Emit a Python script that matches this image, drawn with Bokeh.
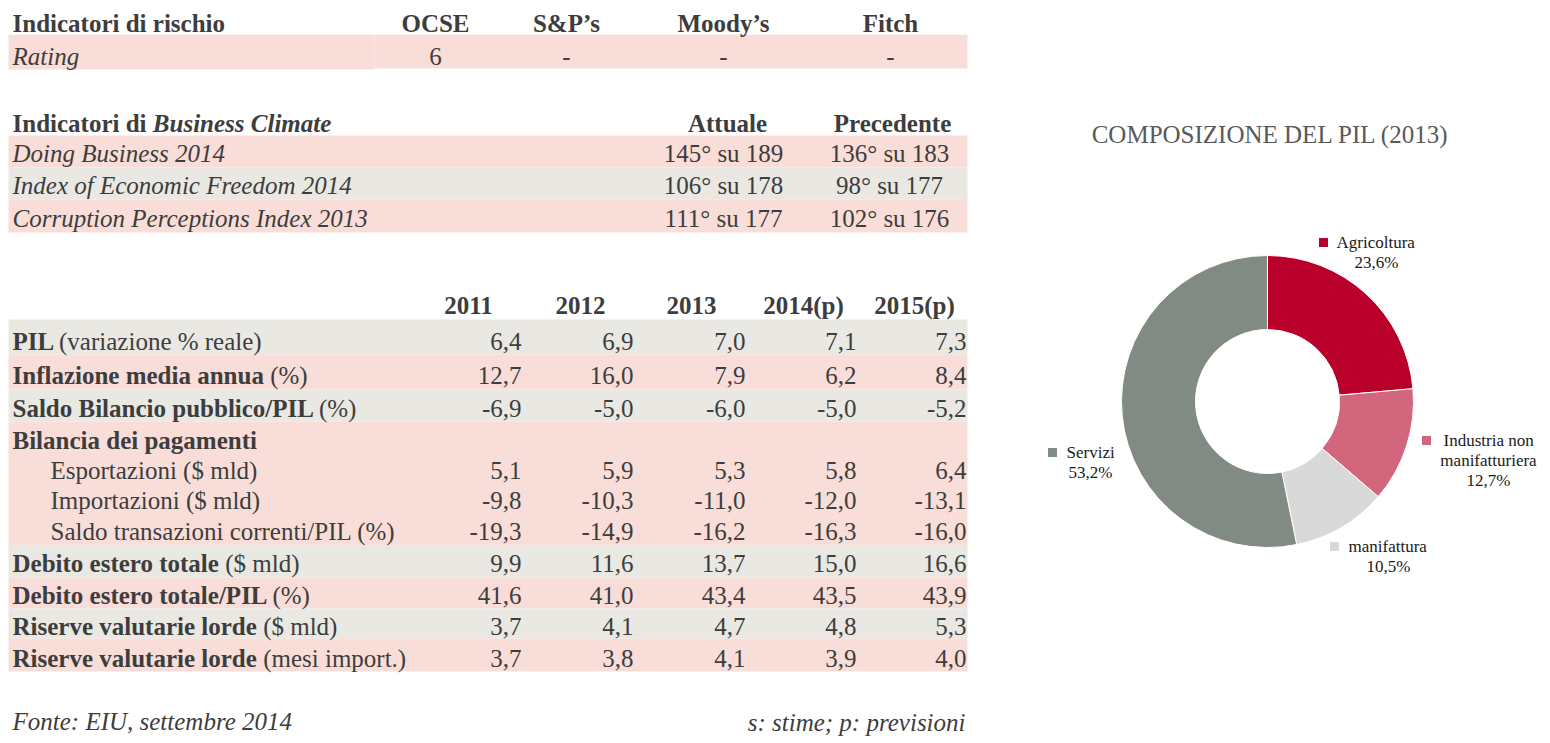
import glob
import math
from bokeh.plotting import figure
from bokeh.models import Range1d
from bokeh.core.properties import value
from bokeh.embed import file_html
from bokeh.resources import INLINE

# ---------------- data ----------------
risk_title = "Indicatori di rischio"
risk_headers = ["OCSE", "S&P’s", "Moody’s", "Fitch"]
risk_row = "Rating"
risk_values = ["6", "-", "-", "-"]

bc_title_bold = "Indicatori di"
bc_title_italic = "Business Climate"
bc_headers = ["Attuale", "Precedente"]
bc_names = ["Doing Business 2014", "Index of Economic Freedom 2014",
            "Corruption Perceptions Index 2013"]
bc_current = ["145° su 189", "106° su 178", "111° su 177"]
bc_previous = ["136° su 183", "98° su 177", "102° su 176"]

years = ["2011", "2012", "2013", "2014(p)", "2015(p)"]
row_bold = ["PIL", "Inflazione media annua", "Saldo Bilancio pubblico/PIL",
            "Bilancia dei pagamenti", "", "", "", "Debito estero totale",
            "Debito estero totale/PIL", "Riserve valutarie lorde",
            "Riserve valutarie lorde"]
row_regular = ["(variazione % reale)", "(%)", "(%)", "",
               "Esportazioni ($ mld)", "Importazioni ($ mld)",
               "Saldo transazioni correnti/PIL (%)", "($ mld)", "(%)",
               "($ mld)", "(mesi import.)"]
row_values = [
    [6.4, 6.9, 7.0, 7.1, 7.3],
    [12.7, 16.0, 7.9, 6.2, 8.4],
    [-6.9, -5.0, -6.0, -5.0, -5.2],
    None,
    [5.1, 5.9, 5.3, 5.8, 6.4],
    [-9.8, -10.3, -11.0, -12.0, -13.1],
    [-19.3, -14.9, -16.2, -16.3, -16.0],
    [9.9, 11.6, 13.7, 15.0, 16.6],
    [41.6, 41.0, 43.4, 43.5, 43.9],
    [3.7, 4.1, 4.7, 4.8, 5.3],
    [3.7, 3.8, 4.1, 3.9, 4.0],
]

source_note = "Fonte: EIU, settembre 2014"
legend_note = "s: stime; p: previsioni"

pie_title = "COMPOSIZIONE DEL PIL (2013)"
pie_names = ["Agricoltura", "Industria non\nmanifatturiera", "manifattura", "Servizi"]
pie_shares = [23.6, 12.7, 10.5, 53.2]

# ---------------- style / layout ----------------
FONT = "Liberation Serif"
FS = 25
TXT = "#3d3d3d"
PINK = "#f9ddd8"
GRAY = "#eae8e3"
PIE_COLORS = ["#b8002a", "#d2667c", "#d9d9d9", "#828a84"]

W, H = 1546, 740


def Y(sy):
    return H - sy


def find_font(name):
    for pat in ["/usr/share/fonts/**/" + name, "/usr/local/share/fonts/**/" + name,
                "/usr/share/fonts/" + name]:
        hits = glob.glob(pat, recursive=True)
        if hits:
            return hits[0]
    return None


_font_cache = {}


def text_width(text, style, size=FS):
    fname = {"normal": "LiberationSerif-Regular.ttf", "bold": "LiberationSerif-Bold.ttf",
             "italic": "LiberationSerif-Italic.ttf",
             "bold italic": "LiberationSerif-BoldItalic.ttf"}[style]
    key = (fname, size)
    if key not in _font_cache:
        f = None
        try:
            from PIL import ImageFont
            path = find_font(fname)
            if path:
                f = ImageFont.truetype(path, size)
        except Exception:
            f = None
        _font_cache[key] = f
    f = _font_cache[key]
    if f is not None:
        return f.getlength(text)
    return len(text) * size * (0.47 if "bold" in style else 0.43)


p = figure(width=W, height=H, output_backend="svg", toolbar_location=None,
           x_range=Range1d(0, W), y_range=Range1d(0, H),
           min_border=0, min_border_left=0, min_border_right=0,
           min_border_top=0, min_border_bottom=0)
p.axis.visible = False
p.grid.visible = False
p.outline_line_color = None
p.background_fill_color = "white"
p.border_fill_color = "white"


def txt(x, sy, s, style="normal", align="left", size=FS, color=TXT):
    p.text(x=[x], y=[Y(sy)], text=[s], text_font=value(FONT),
           text_font_size=f"{size}px", text_font_style=style,
           text_align=align, text_baseline="middle", text_color=color)


def band(x0, x1, sy0, sy1, color):
    p.quad(left=[x0], right=[x1], top=[Y(sy0)], bottom=[Y(sy1)],
           fill_color=color, line_color=None)


LEFT = 12
BAND_L, BAND_R = 8, 967

# ---- table 1: risk ----
band(BAND_L, 374, 34, 69, PINK)
band(374, BAND_R, 34, 68, PINK)
txt(LEFT, 23, risk_title, "bold")
risk_x = [435, 566, 723, 890]
for x, h, v in zip(risk_x, risk_headers, risk_values):
    txt(x, 23, h, "bold", "center")
    txt(x, 56, v, "normal", "center")
txt(LEFT, 56, risk_row, "italic")

# ---- table 2: business climate ----
bc_bands = [(135, 167, PINK), (167, 199, GRAY), (199, 232, PINK)]
for (a, b, c) in bc_bands:
    band(BAND_L, BAND_R, a, b, c)
txt(LEFT, 123, bc_title_bold, "bold")
txt(LEFT + text_width(bc_title_bold + " ", "bold"), 123, bc_title_italic, "bold italic")
bc_x = [727, 892]
for x, h in zip(bc_x, bc_headers):
    txt(x, 123, h, "bold", "center")
for i, (a, b, c) in enumerate(bc_bands):
    sy = (a + b) / 2 + 2
    txt(LEFT, sy, bc_names[i], "italic")
    txt(bc_x[0] - 4, sy, bc_current[i], "normal", "center")
    txt(bc_x[1] - 3, sy, bc_previous[i], "normal", "center")

# ---- table 3: macro ----
bands3 = [(319, 354, GRAY), (354, 389, PINK), (389, 421, GRAY), (421, 545, PINK),
          (545, 577, GRAY), (577, 608, PINK), (608, 638, GRAY), (638, 671, PINK)]
for (a, b, c) in bands3:
    band(BAND_L, BAND_R, a, b, c)
year_x = [468, 580, 691, 803, 914]
val_right = [521, 633, 745, 856, 966]
for x, yr in zip(year_x, years):
    txt(x, 305, yr, "bold", "center")
row_y = [341, 375, 408, 440, 470, 500, 531, 563, 595, 626, 658]
for i, sy in enumerate(row_y):
    x = LEFT
    if row_bold[i]:
        txt(x, sy, row_bold[i], "bold")
        x += text_width(row_bold[i] + " ", "bold")
        if row_regular[i]:
            txt(x, sy, row_regular[i], "normal")
    else:
        txt(50, sy, row_regular[i], "normal")
    if row_values[i] is not None:
        for xr, v in zip(val_right, row_values[i]):
            txt(xr, sy, f"{v:.1f}".replace(".", ","), "normal", "right")

txt(LEFT, 721, source_note, "italic")
txt(965, 722, legend_note, "italic", "right")

# ---- donut ----
CX, CY = 1267, 401
R_OUT, R_IN = 146, 72
starts, ends = [], []
cum = 0.0
total = sum(pie_shares)
for s in pie_shares:
    starts.append(math.pi / 2 - 2 * math.pi * cum / total)
    cum += s
    ends.append(math.pi / 2 - 2 * math.pi * cum / total)
p.annular_wedge(x=[CX] * 4, y=[Y(CY)] * 4, inner_radius=R_IN, outer_radius=R_OUT,
                start_angle=starts, end_angle=ends, direction="clock",
                fill_color=PIE_COLORS, line_color="white", line_width=1)

txt(1270, 134, pie_title, "normal", "center", 25, "#595959")

# label layout: (marker x, marker y, text x, pct center x)
LBL = 17
lab_layout = [(1323, 242, 1336, 1376), (1426, 440, 1443, 1488),
              (1334, 546, 1348, 1388), (1052, 452, 1066, 1090)]
for (mx, my, tx, pcx), name, share, col in zip(lab_layout, pie_names, pie_shares, PIE_COLORS):
    p.rect(x=[mx], y=[Y(my)], width=9, height=9, fill_color=col, line_color=None)
    lines = name.split("\n")
    txt(tx, my, lines[0], "normal", "left", LBL, "#1a1a1a")
    sy = my
    for extra in lines[1:]:
        sy += 20
        txt(pcx, sy, extra, "normal", "center", LBL, "#1a1a1a")
    sy += 20
    txt(pcx, sy, f"{share:.1f}%".replace(".", ","), "normal", "center", LBL, "#1a1a1a")

open("out.html", "w").write(file_html(p, INLINE))
